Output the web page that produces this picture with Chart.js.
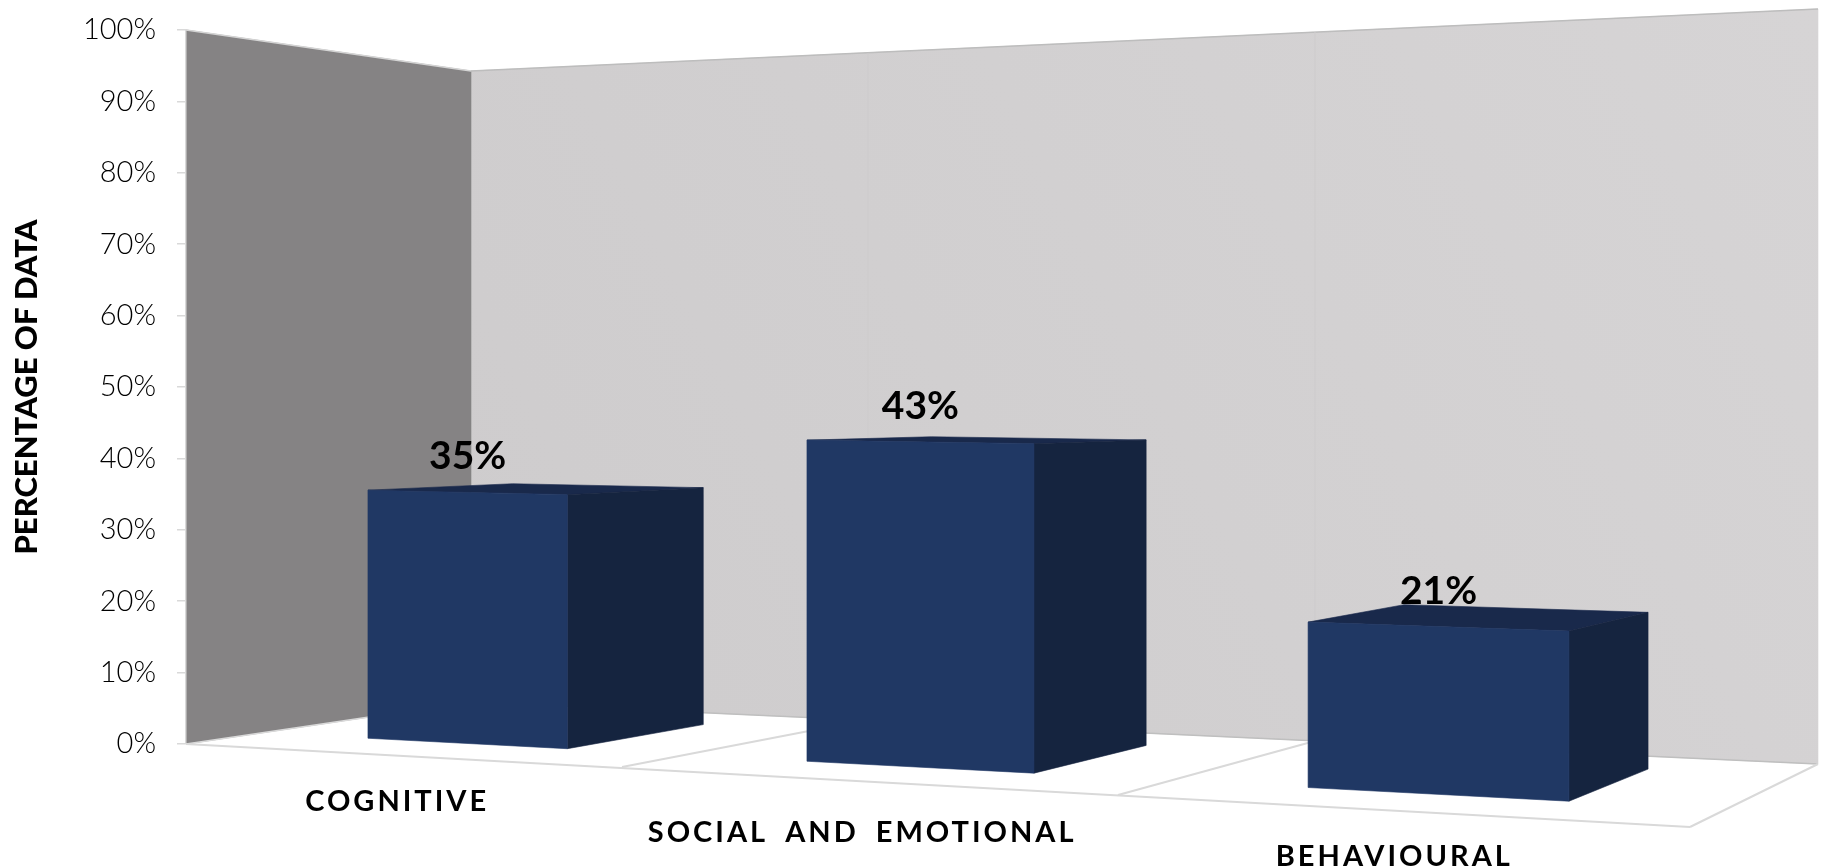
<!DOCTYPE html>
<html>
<head>
<meta charset="utf-8">
<title>Percentage of data</title>
<script src="https://cdn.jsdelivr.net/npm/chart.js@4/dist/chart.umd.min.js"></script>
<style>
  html, body { margin: 0; padding: 0; background: #fff; }
  canvas { display: block; }
</style>
</head>
<body>
<canvas id="chart" width="1824" height="868"></canvas>
<script>
const categories = ["COGNITIVE", "SOCIAL AND EMOTIONAL", "BEHAVIOURAL"];
const shares = [35, 43, 21];
const axisTitle = "PERCENTAGE OF DATA";

const fontName = "Lato, 'Open Sans', sans-serif";
const faceColor = "#203864";
const sideColor = "#15243f";
const topColor = "#19294b";
const lineColor = "#d9d9d9";

// perspective of the original 3D chart
const vanish = { x: 2577, y: 392 };

// category position (0..3) -> screen x on the plane of the bar fronts
function faceX(u) {
  return (260.6 + 382.7 * u) / (1 - 0.06098 * u);
}
// category position (0..3) -> screen x on the front edge of the floor
function edgeX(u) {
  return (186 + 398 * u) / (1 - 0.0612 * u);
}
function edgeY(x) {
  return 744 + (x - 186) * 0.0552;
}

function project(px, py, chart) {
  const area = chart.chartArea;
  const u = (px - area.left) / ((area.right - area.left) / categories.length);
  const x = faceX(u);
  const value = chart.scales.y.getValueForPixel(py);
  const base = 739 + (x - 368) * 0.0525;
  const perPercent = 7.11 + (x - 368) * 0.000858;
  return { x: x, y: base - value * perPercent };
}

function pushBack(p) {
  const t = 0.0655 + (p.x - 368) * 0.0000108;
  return { x: p.x + t * (vanish.x - p.x), y: p.y + t * (vanish.y - p.y) };
}

function poly(ctx, points, fill) {
  ctx.beginPath();
  points.forEach((p, i) => {
    if (i == 0) {
      ctx.moveTo(p[0], p[1]);
    } else {
      ctx.lineTo(p[0], p[1]);
    }
  });
  ctx.closePath();
  ctx.fillStyle = fill;
  ctx.fill();
  // hides the seam between neighbouring faces
  ctx.strokeStyle = fill;
  ctx.lineWidth = 0.6;
  ctx.stroke();
}

function line(ctx, x1, y1, x2, y2, color, width) {
  ctx.beginPath();
  ctx.moveTo(x1, y1);
  ctx.lineTo(x2, y2);
  ctx.strokeStyle = color;
  ctx.lineWidth = width;
  ctx.stroke();
}

const roomPlugin = {
  id: "room",
  beforeDraw(chart) {
    const ctx = chart.ctx;
    ctx.save();

    const wall = ctx.createLinearGradient(471, 700, 1818, 20);
    wall.addColorStop(0, "#cecccd");
    wall.addColorStop(1, "#d6d4d5");
    poly(ctx, [[471, 71], [1818, 9], [1818, 764], [471, 702]], wall);
    poly(ctx, [[186, 30], [471, 71], [471, 702], [186, 744]], "#858384");

    line(ctx, 186, 30, 471, 71, "#d4d4d4", 1.5);
    line(ctx, 471, 71, 1818, 9, "#bdbdbd", 1.5);
    line(ctx, 868, 53, 868, 721, "#cdcbcc", 1);
    line(ctx, 1315, 32, 1315, 741, "#cdcbcc", 1);

    // floor
    line(ctx, 471, 702, 1818, 764, "#bfbfbf", 1.5);
    line(ctx, 186, 744, 471, 702, lineColor, 1.5);
    line(ctx, 186, 744, 1690, 827, lineColor, 2);
    line(ctx, 1690, 827, 1818, 764, lineColor, 2);
    line(ctx, 622, 767, 866, 720, lineColor, 2);
    line(ctx, 1118, 795, 1315, 741, lineColor, 2);
    ctx.restore();
  },
  afterDatasetsDraw(chart) {
    const ctx = chart.ctx;
    const bars = chart.getDatasetMeta(0).data;
    ctx.save();
    bars.forEach((bar, i) => {
      const left = bar.x - bar.width / 2;
      const right = bar.x + bar.width / 2;
      const tl = project(left, bar.y, chart);
      const tr = project(right, bar.y, chart);
      const bl = project(left, bar.base, chart);
      const br = project(right, bar.base, chart);
      const backTl = pushBack(tl);
      const backTr = pushBack(tr);
      const backBr = pushBack(br);

      poly(ctx, [[tl.x, tl.y], [tr.x, tr.y], [backTr.x, backTr.y], [backTl.x, backTl.y]], topColor);
      poly(ctx, [[tr.x, tr.y], [backTr.x, backTr.y], [backBr.x, backBr.y], [br.x, br.y]], sideColor);
      poly(ctx, [[tl.x, tl.y], [tr.x, tr.y], [br.x, br.y], [bl.x, bl.y]], faceColor);

      ctx.fillStyle = "#000";
      ctx.textAlign = "center";
      ctx.textBaseline = "alphabetic";
      ctx.font = "bold 39px " + fontName;
      ctx.fillText(shares[i] + "%", (tl.x + tr.x) / 2, (tl.y + tr.y) / 2 - 23);
    });

    // category labels follow the front edge of the floor
    ctx.fillStyle = "#000";
    ctx.textAlign = "center";
    ctx.textBaseline = "alphabetic";
    ctx.font = "bold 29px " + fontName;
    ctx.letterSpacing = "3px";
    ctx.wordSpacing = "7px";
    categories.forEach((name, i) => {
      const x = edgeX(i + 0.5);
      ctx.fillText(name, x, edgeY(x) + (i == 1 ? 61 : 55));
    });
    ctx.restore();
  },
};

const myChart = new Chart(document.getElementById("chart").getContext("2d"), {
  type: "bar",
  data: {
    labels: categories,
    datasets: [
      {
        label: axisTitle,
        data: shares,
        backgroundColor: "rgba(0,0,0,0)",
        categoryPercentage: 0.47,
        barPercentage: 1,
      },
    ],
  },
  options: {
    responsive: false,
    animation: false,
    devicePixelRatio: 1,
    layout: { padding: { left: 0, top: 30, right: 134, bottom: 124 } },
    plugins: { legend: { display: false }, tooltip: { enabled: false } },
    scales: {
      x: {
        grid: { display: false },
        border: { display: false },
        ticks: { display: false },
        afterFit(scale) {
          scale.height = 0;
        },
      },
      y: {
        min: 0,
        max: 100,
        afterFit(scale) {
          scale.width = 186;
          scale.paddingTop = 0;
          scale.paddingBottom = 0;
        },
        grid: { drawOnChartArea: false, color: lineColor, tickLength: 9, lineWidth: 1.5 },
        border: { color: lineColor, width: 1.5 },
        ticks: {
          stepSize: 10,
          padding: 21,
          color: "#000",
          font: { family: fontName, size: 29, weight: "300" },
          callback: (v) => v + "%",
        },
        title: {
          display: true,
          text: axisTitle,
          color: "#000",
          padding: { top: 8, bottom: 0 },
          font: { family: fontName, size: 31, weight: "900" },
        },
      },
    },
  },
  plugins: [roomPlugin],
});
</script>
</body>
</html>
